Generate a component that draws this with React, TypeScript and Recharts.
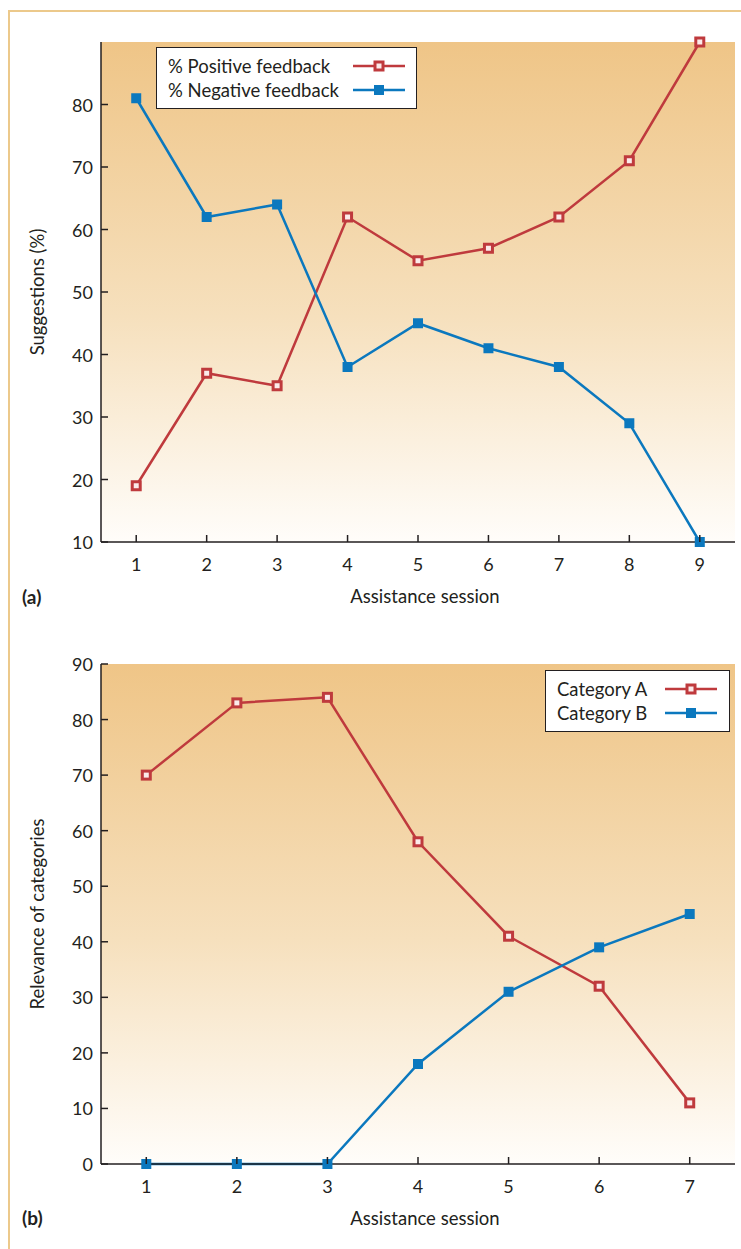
import React from 'react';
import { LineChart, Line, XAxis, YAxis, CartesianGrid, Legend, Label } from 'recharts';

// panel (a)
const sessionsA = [1, 2, 3, 4, 5, 6, 7, 8, 9];
const positiveFeedback = [19, 37, 35, 62, 55, 57, 62, 71, 90];
const negativeFeedback = [81, 62, 64, 38, 45, 41, 38, 29, 10];
const yTicksA = [10, 20, 30, 40, 50, 60, 70, 80];

// panel (b)
const sessionsB = [1, 2, 3, 4, 5, 6, 7];
const categoryA = [70, 83, 84, 58, 41, 32, 11];
const categoryB = [0, 0, 0, 18, 31, 39, 45];
const yTicksB = [0, 10, 20, 30, 40, 50, 60, 70, 80, 90];

const RED = '#bf3a3d';
const BLUE = '#0b78be';
const INK = '#231f20';
const FONT = 'Lato, "Open Sans", sans-serif';

const dataA = sessionsA.map((s, i) => ({ session: s, positive: positiveFeedback[i], negative: negativeFeedback[i] }));
const dataB = sessionsB.map((s, i) => ({ session: s, catA: categoryA[i], catB: categoryB[i] }));

const RedMarker = ({ cx, cy }: { cx: number; cy: number }) => (
  <g>
    <rect x={cx - 5.5} y={cy - 5.5} width={11} height={11} fill={RED} />
    <rect x={cx - 2.5} y={cy - 2.5} width={5} height={5} fill="#fbeaea" />
  </g>
);

const BlueMarker = ({ cx, cy }: { cx: number; cy: number }) => (
  <rect x={cx - 5} y={cy - 5} width={10} height={10} fill={BLUE} />
);

const redDot = (p: any) => <RedMarker key={`r${p.index}`} cx={p.cx} cy={p.cy} />;
const blueDot = (p: any) => <BlueMarker key={`b${p.index}`} cx={p.cx} cy={p.cy} />;

const XTick = ({ x, y, payload }: any) => (
  <g>
    <line x1={x} y1={y} x2={x} y2={y - 7} stroke={INK} strokeWidth={1.5} />
    <text x={x} y={y + 22} textAnchor="middle" dominantBaseline="central" fill={INK} fontSize={18} fontFamily={FONT}>
      {payload.value}
    </text>
  </g>
);

const YTick = ({ x, y, payload }: any) => (
  <g>
    <line x1={x} y1={y} x2={x + 7} y2={y} stroke={INK} strokeWidth={1.5} />
    <text x={x - 8} y={y} textAnchor="end" dominantBaseline="central" fill={INK} fontSize={18} fontFamily={FONT}>
      {payload.value}
    </text>
  </g>
);

const yTitle = (text: string) => (props: any) => {
  const vb = props.viewBox;
  const cx = 37;
  const cy = vb.y + vb.height / 2;
  return (
    <text x={cx} y={cy} transform={`rotate(-90 ${cx} ${cy})`} textAnchor="middle" dominantBaseline="central" fill={INK} fontSize={18.5} fontFamily={FONT}>
      {text}
    </text>
  );
};

const xTitle = (text: string) => (props: any) => {
  const vb = props.viewBox;
  return (
    <text x={425} y={vb.y + 54} textAnchor="middle" dominantBaseline="central" fill={INK} fontSize={18.5} fontFamily={FONT}>
      {text}
    </text>
  );
};

const LegendBox = ({ payload, keys, textWidth }: any) => {
  const items = [...(payload || [])].sort((a: any, b: any) => keys.indexOf(a.dataKey) - keys.indexOf(b.dataKey));
  return (
    <div style={{ background: '#fff', border: `1.5px solid ${INK}`, padding: '6px 10px 6px 11px', fontFamily: FONT, fontSize: 18.5, color: INK }}>
      {items.map((entry: any, i: number) => (
        <div key={i} style={{ display: 'flex', alignItems: 'center', height: 24 }}>
          <span style={{ width: textWidth, whiteSpace: 'nowrap' }}>{entry.value}</span>
          <svg width={52} height={14}>
            <line x1={0} y1={7} x2={52} y2={7} stroke={entry.color} strokeWidth={2.5} />
            {entry.color === RED ? <RedMarker cx={26} cy={7} /> : <BlueMarker cx={26} cy={7} />}
          </svg>
        </div>
      ))}
    </div>
  );
};

const Gradient = ({ id }: { id: string }) => (
  <defs>
    <linearGradient id={id} x1="0" y1="0" x2="0" y2="1">
      <stop offset="0%" stopColor="#efc587" />
      <stop offset="55%" stopColor="#f6e0bd" />
      <stop offset="100%" stopColor="#fffdfa" />
    </linearGradient>
  </defs>
);

const Panel = ({ data, xDomain, xTicks, yDomain, yTicks, yLabel, keys, names, legendPos, legendTextWidth, gradId, top }: any) => (
  <div style={{ position: 'absolute', left: 0, top }}>
    <LineChart width={741} height={620} data={data} margin={{ top: top === 0 ? 42 : 44, right: 6, bottom: top === 0 ? 28 : 26, left: 0 }}>
      <Gradient id={gradId} />
      <CartesianGrid horizontal={false} vertical={false} fill={`url(#${gradId})`} fillOpacity={1} />
      <XAxis dataKey="session" type="number" domain={xDomain} ticks={xTicks} height={50}
        tickSize={0} tickMargin={0} tick={<XTick />} axisLine={{ stroke: INK, strokeWidth: 1.5 }}>
        <Label content={xTitle('Assistance session')} />
      </XAxis>
      <XAxis xAxisId="top" orientation="top" type="number" domain={xDomain} height={0} tick={false} tickLine={false}
        axisLine={{ stroke: '#555', strokeWidth: 1.5 }} />
      <YAxis type="number" domain={yDomain} ticks={yTicks} width={101}
        tickSize={0} tickMargin={0} tick={<YTick />} axisLine={{ stroke: INK, strokeWidth: 1.5 }}>
        <Label content={yTitle(yLabel)} />
      </YAxis>
      <YAxis yAxisId="right" orientation="right" type="number" domain={yDomain} width={0} tick={false} tickLine={false}
        axisLine={{ stroke: INK, strokeWidth: 1.5 }} />
      <Legend layout="vertical" align="center" verticalAlign="middle"
        wrapperStyle={{ top: legendPos.top, left: legendPos.left, width: legendPos.width }}
        content={(p: any) => <LegendBox payload={p.payload} keys={keys} textWidth={legendTextWidth} />} />
      <Line dataKey={keys[0]} name={names[0]} stroke={RED} strokeWidth={2.5} dot={redDot} activeDot={false} isAnimationActive={false} />
      <Line dataKey={keys[1]} name={names[1]} stroke={BLUE} strokeWidth={2.5} dot={blueDot} activeDot={false} isAnimationActive={false} />
    </LineChart>
  </div>
);

export default function App() {
  return (
    <div style={{ position: 'absolute', left: 0, top: 0, width: 741, height: 1249, overflow: 'hidden', background: '#fff' }}>
      <div style={{ position: 'absolute', left: 8, top: 10, width: 800, height: 1300, border: '2px solid #ecc98b' }} />
      <Panel data={dataA} xDomain={[0.5, 9.5]} xTicks={sessionsA} yDomain={[10, 90]} yTicks={yTicksA}
        yLabel="Suggestions (%)" keys={['positive', 'negative']} names={['% Positive feedback', '% Negative feedback']}
        legendPos={{ top: 47, left: 156, width: 261 }} legendTextWidth={185} gradId="bgA" top={0} />
      <Panel data={dataB} xDomain={[0.5, 7.5]} xTicks={sessionsB} yDomain={[0, 90]} yTicks={yTicksB}
        yLabel="Relevance of categories" keys={['catA', 'catB']} names={['Category A', 'Category B']}
        legendPos={{ top: 50, left: 545, width: 185 }} legendTextWidth={108} gradId="bgB" top={620} />
      <div style={{ position: 'absolute', left: 22, top: 585, fontFamily: FONT, fontWeight: 700, fontSize: 19, color: INK }}>(a)</div>
      <div style={{ position: 'absolute', left: 22, top: 1206, fontFamily: FONT, fontWeight: 700, fontSize: 19, color: INK }}>(b)</div>
    </div>
  );
}
